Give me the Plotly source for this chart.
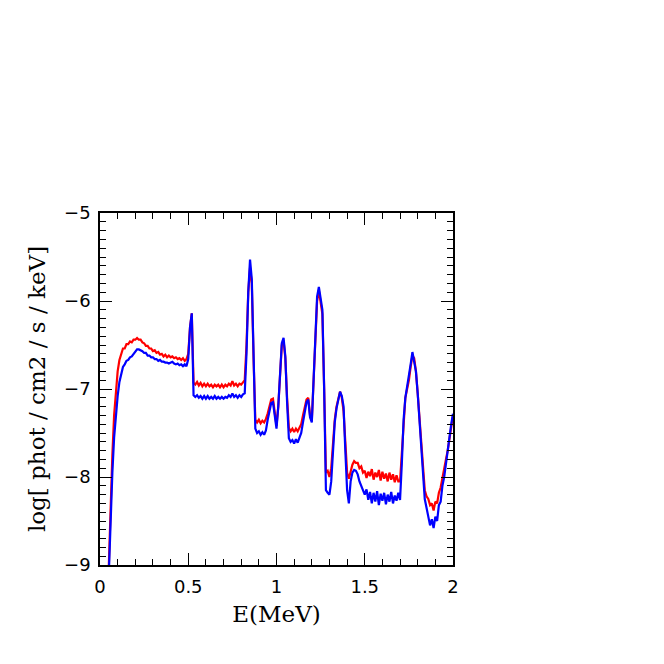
import numpy as np
import plotly.graph_objects as go

# energy grid (MeV), one point every 10 keV
energia = np.round(np.arange(0.05, 2.0001, 0.01), 2)

# log flux, red spectrum
fluxo_vermelho = [
    -9.00, -8.30, -7.75, -7.30, -7.00,
    -6.80, -6.67, -6.61, -6.54, -6.54, -6.49, -6.49, -6.46, -6.47, -6.44,
    -6.44, -6.42, -6.44, -6.44, -6.47, -6.48, -6.51, -6.51, -6.54, -6.54,
    -6.57, -6.56, -6.59, -6.58, -6.61, -6.60, -6.63, -6.61, -6.64, -6.62,
    -6.64, -6.63, -6.65, -6.64, -6.66, -6.65, -6.67, -6.65, -6.68, -6.66,
    -6.60, -6.30, -6.14, -6.93, -6.95, -6.92, -6.96, -6.93, -6.97, -6.94,
    -6.97, -6.94, -6.97, -6.95, -6.98, -6.95, -6.97, -6.95, -6.98, -6.95,
    -6.98, -6.95, -6.97, -6.94, -6.96, -6.91, -6.96, -6.94, -6.97, -6.94,
    -6.95, -6.92, -6.90, -6.50, -5.90, -5.62, -5.80, -6.65, -7.35, -7.38,
    -7.35, -7.39, -7.36, -7.38, -7.34, -7.28, -7.20, -7.12, -7.11, -7.28,
    -7.42, -7.20, -6.80, -6.50, -6.45, -6.65, -7.10, -7.44, -7.48, -7.45,
    -7.49, -7.45, -7.48, -7.44, -7.40, -7.30, -7.20, -7.12, -7.10, -7.30,
    -7.36, -6.90, -6.35, -6.00, -5.88, -6.00, -6.15, -7.00, -7.95, -7.93,
    -8.00, -7.90, -7.60, -7.35, -7.20, -7.10, -7.03, -7.10, -7.25, -7.60,
    -7.95, -8.02, -7.92, -7.86, -7.82, -7.84, -7.84, -7.90, -7.88, -7.95,
    -7.93, -8.01, -7.94, -7.99, -7.91, -8.03, -7.95, -8.00, -7.92, -8.04,
    -7.94, -8.02, -7.96, -8.05, -7.95, -8.03, -7.97, -8.06, -7.98, -8.05,
    -8.05, -7.75, -7.35, -7.10, -7.00, -6.90, -6.75, -6.62, -6.65, -6.80,
    -7.05, -7.35, -7.65, -7.95, -8.15, -8.22, -8.25, -8.32, -8.30, -8.38,
    -8.28, -8.30, -8.18, -8.12, -8.00, -7.92, -7.80, -7.70, -7.55, -7.42,
    -7.30,
]

# log flux, blue spectrum
fluxo_azul = [
    -9.10, -8.45, -7.95, -7.55, -7.28,
    -7.08, -6.92, -6.82, -6.75, -6.72, -6.68, -6.67, -6.64, -6.63, -6.60,
    -6.58, -6.55, -6.55, -6.56, -6.57, -6.59, -6.59, -6.62, -6.62, -6.64,
    -6.64, -6.66, -6.66, -6.68, -6.67, -6.69, -6.69, -6.70, -6.70, -6.71,
    -6.70, -6.69, -6.71, -6.72, -6.71, -6.73, -6.72, -6.74, -6.72, -6.74,
    -6.66, -6.30, -6.14, -7.07, -7.09, -7.07, -7.10, -7.08, -7.11, -7.08,
    -7.11, -7.08, -7.11, -7.09, -7.11, -7.08, -7.11, -7.09, -7.11, -7.09,
    -7.11, -7.09, -7.10, -7.07, -7.09, -7.05, -7.09, -7.07, -7.10, -7.07,
    -7.09, -7.06, -7.05, -6.60, -5.90, -5.53, -5.75, -6.60, -7.45, -7.50,
    -7.48, -7.52, -7.49, -7.52, -7.47, -7.35, -7.24, -7.16, -7.15, -7.32,
    -7.45, -7.20, -6.80, -6.48, -6.42, -6.63, -7.15, -7.56, -7.60, -7.58,
    -7.62, -7.57, -7.61, -7.56, -7.50, -7.38, -7.25, -7.15, -7.12, -7.32,
    -7.38, -6.90, -6.32, -5.95, -5.84, -5.95, -6.10, -7.00, -8.15, -8.18,
    -8.20, -8.05, -7.70, -7.38, -7.22, -7.12, -7.03, -7.08, -7.20, -7.70,
    -8.15, -8.30, -8.05, -7.95, -7.92, -7.93, -7.97, -8.05, -8.10, -8.15,
    -8.20, -8.14, -8.26, -8.17, -8.30, -8.18, -8.28, -8.16, -8.32, -8.19,
    -8.27, -8.18, -8.31, -8.20, -8.28, -8.17, -8.30, -8.21, -8.27, -8.18,
    -8.26, -7.85, -7.35, -7.10, -6.98, -6.88, -6.72, -6.58, -6.68, -6.80,
    -7.05, -7.35, -7.70, -8.05, -8.25, -8.35, -8.45, -8.55, -8.48, -8.58,
    -8.45, -8.50, -8.32, -8.28, -8.10, -8.00, -7.85, -7.72, -7.55, -7.40,
    -7.28,
]

fig = go.Figure()
fig.add_trace(go.Scatter(x=energia, y=fluxo_vermelho, mode='lines',
                         line=dict(color='#ff0000', width=2.2), showlegend=False))
fig.add_trace(go.Scatter(x=energia, y=fluxo_azul, mode='lines',
                         line=dict(color='#0000ff', width=2.2), showlegend=False))

eixo = dict(
    showline=True, linecolor='black', linewidth=1.5, mirror='allticks',
    ticks='inside', ticklen=12, tickwidth=1, tickcolor='black',
    showgrid=False, zeroline=False,
    tickfont=dict(family='DejaVu Sans', size=18, color='black'),
)
fonte_titulo = dict(family='DejaVu Serif', size=23, color='black')

# a pagina ja tem 8px de margem no body, por isso 656 e nao 664
fig.update_layout(
    width=656, height=656,
    margin=dict(t=205, b=99, l=92, r=211),
    paper_bgcolor='white',
    plot_bgcolor='white',
    xaxis=dict(eixo, range=[0, 2], dtick=0.5, tick0=0, ticklabelstandoff=5,
               minor=dict(dtick=0.1, ticks='inside', ticklen=6, tickcolor='black'),
               title=dict(text='E(MeV)', font=fonte_titulo, standoff=10)),
    yaxis=dict(eixo, range=[-9, -5], dtick=1, tick0=-9, ticklabelstandoff=4,
               minor=dict(dtick=0.1, ticks='inside', ticklen=6, tickcolor='black'),
               title=dict(text='log[ phot / cm2 / s / keV]', font=fonte_titulo, standoff=12)),
)

fig.write_html("out.html")
